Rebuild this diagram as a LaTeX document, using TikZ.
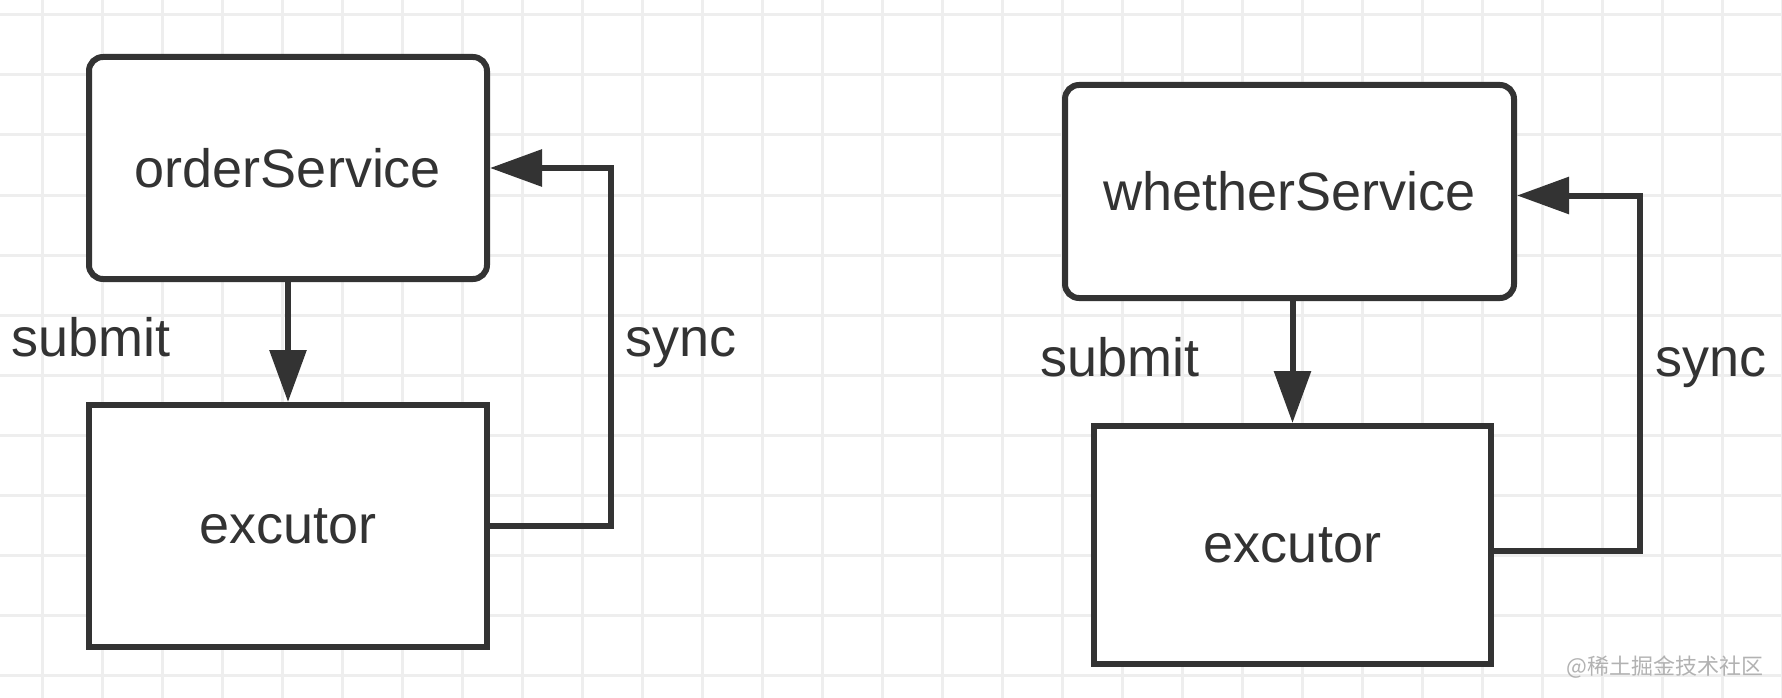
\documentclass[tikz,border=0pt]{standalone}
\usepackage{fontspec}
\setmainfont{Liberation Sans}
\newfontfamily\cjkfont{Noto Sans CJK SC}
\usetikzlibrary{arrows.meta}
\definecolor{inkgray}{HTML}{333333}
\definecolor{gridgray}{HTML}{EEEEEE}

\begin{document}
\begin{tikzpicture}[x=1pt,y=-1pt,
    gridline/.style={draw=gridgray, line width=3pt},
    box/.style={draw=inkgray, line width=6pt, fill=white, text=inkgray,
        font=\fontsize{54}{60}\selectfont, inner sep=0pt},
    svcbox/.style={box, rounded corners=14pt},
    flow/.style={draw=inkgray, line width=6pt, -{Triangle[length=52pt,width=36pt]}},
    lbl/.style={text=inkgray, font=\fontsize{54}{60}\selectfont, inner sep=0pt, anchor=base west}]
\fill[white] (0,0) rectangle (1782,698);
\useasboundingbox (0,0) rectangle (1782,698);
% grid
\foreach \gx in {0,...,29}
    \draw[gridline] ({42+60*\gx},0) -- ++(0,698);
\foreach \gy in {0,...,11}
    \draw[gridline] (0,{15+60*\gy}) -- ++(1782,0);

% left
\node[svcbox, minimum width=398pt, minimum height=222pt] (orderService) at (288,168) {orderService};
\node[box, minimum width=398pt, minimum height=242pt] (excutorA) at (288,526) {excutor};
\draw[flow] (orderService.south) -- (excutorA.north);
\draw[flow] (excutorA.east) -- ++(121,0) |- (orderService.east);
\node[lbl] (submitA) at (11,356) {submit};
\node[lbl] (syncA) at (625,356) {sync};

% right
\node[svcbox, minimum width=449pt, minimum height=213pt] (whetherService) at (1289.5,191.5) {whetherService};
\node[box, minimum width=397pt, minimum height=238pt] (excutorB) at (1292.5,545) {excutor};
\draw[flow] (excutorB.north |- whetherService.south) -- (excutorB.north);
\draw[flow] ([yshift=-6pt]excutorB.east) -- ++(146,0) |- ([yshift=-4pt]whetherService.east);
\node[lbl] (submitB) at (1040,376) {submit};
\node[lbl] (syncB) at (1655,376) {sync};

\node[text=gray!60, font=\cjkfont\fontsize{22}{24}\selectfont, inner sep=0pt] (watermark) at (1665,667) {@稀土掘金技术社区};
\end{tikzpicture}
\end{document}
